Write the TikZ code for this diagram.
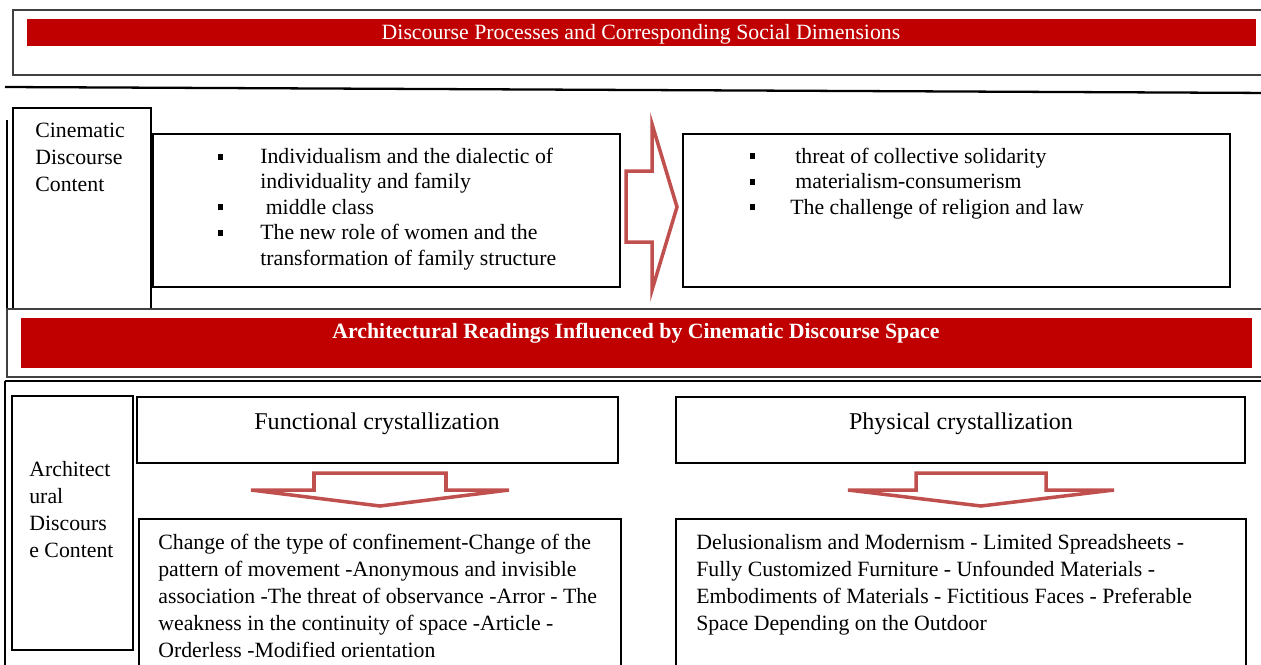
\documentclass[tikz,border=0pt]{standalone}
\usepackage{fontspec}
\setmainfont{Liberation Serif}
\usetikzlibrary{positioning,fit}
\definecolor{barred}{RGB}{192,0,0}
\definecolor{arrowred}{RGB}{192,80,77}
\newcommand{\sqb}{\rule[2.2pt]{2.8pt}{3.4pt}}
\newcommand{\bitem}[1]{\makebox[#1][l]{\sqb}}

\begin{document}
\begin{tikzpicture}[x=0.02cm, y=-0.02cm, font=\fontsize{12.4}{15.3}\selectfont]
	\tikzstyle{box}=[draw=black, line width=0.6pt, inner sep=0pt]
	\tikzstyle{frame}=[draw=black!75, line width=1pt]
	\tikzstyle{bar}=[fill=barred, inner sep=0pt]
	\tikzstyle{txt}=[inner sep=0pt, align=left, anchor=base west]
	\tikzstyle{blockarrow}=[draw=arrowred, line width=2pt, line join=miter]

	\useasboundingbox (0,0) rectangle (1261,664);
	\clip (0,0) rectangle (1261,664);

	% title band
	\draw[frame] (13,10) rectangle (1275,75);
	\node[bar, fit={(27,19) (1256,46)}] (titlebar) {};
	\node[anchor=base, inner sep=0pt, text=white] (title) at (641,39)
	{Discourse Processes and Corresponding Social Dimensions};
	\draw[line width=1.3pt] (5,87) -- (1275,93);

	% cinematic discourse (multi-line nodes sit on their last baseline)
	\draw[line width=0.8pt] (7,120) -- (7,310);
	\node[box, fit={(13,108) (151,309)}] (cinebox) {};
	\node[txt] (cinelabel) at (35,191) {Cinematic\\Discourse\\Content};

	\node[box, fit={(153,134) (620,287)}] (content1) {};
	\node[txt, font=\fontsize{12.4}{14.46}\selectfont] (items1) at (218,265)
	{\bitem{0.84cm}Individualism and the dialectic of\\
	\hspace*{0.84cm}individuality and family\\
	\bitem{0.84cm}\ middle class\\
	\bitem{0.84cm}The new role of women and the\\
	\hspace*{0.84cm}transformation of family structure};

	\draw[blockarrow] (626,171) -- (652,171) -- (652,124) -- (677,207)
		-- (652,290) -- (652,242) -- (626,242) -- cycle;

	\node[box, fit={(683,134) (1230,287)}] (content2) {};
	\node[txt, font=\fontsize{12.4}{14.46}\selectfont] (items2) at (750,214)
	{\bitem{0.9cm}threat of collective solidarity\\
	\bitem{0.9cm}materialism-consumerism\\
	\bitem{0.8cm}The challenge of religion and law};

	% architectural readings band
	\draw[frame] (7,309) rectangle (1275,377);
	\node[bar, fit={(21,318) (1252,368)}] (readbar) {};
	\node[anchor=base, inner sep=0pt, text=white, font=\fontsize{12.4}{15.3}\selectfont\bfseries] (readtitle) at (636,338)
	{Architectural Readings Influenced by Cinematic Discourse Space};

	% architectural discourse
	\draw[line width=1.5pt] (5,381) -- (1275,381);
	\draw[line width=0.8pt] (5,381) -- (5,670);
	\node[box, fit={(12,396) (133,650)}] (archbox) {};
	\node[txt] (archlabel) at (29,557) {Architect\\ural\\Discours\\e Content};

	\node[box, fit={(137,397) (618,463)}] (funcbox) {};
	\node[anchor=base, inner sep=0pt, font=\fontsize{13.7}{16}\selectfont] (funclabel) at (377,429) {Functional crystallization};
	\node[box, fit={(676,397) (1245,463)}] (physbox) {};
	\node[anchor=base, inner sep=0pt, font=\fontsize{13.7}{16}\selectfont] (physlabel) at (961,429) {Physical crystallization};

	\foreach \cx/\hw/\sw in {380/129/66, 981/133/65}
		\draw[blockarrow] (\cx-\sw,473) -- (\cx+\sw,473) -- (\cx+\sw,490) -- (\cx+\hw,490)
			-- (\cx,506) -- (\cx-\hw,490) -- (\cx-\sw,490) -- cycle;

	\node[box, fit={(139,519) (621,680)}] (funcitems) {};
	\node[txt] (functext) at (158,657)
	{Change of the type of confinement-Change of the\\
	pattern of movement -Anonymous and invisible\\
	association -The threat of observance -Arror - The\\
	weakness in the continuity of space -Article -\\
	Orderless -Modified orientation};

	\node[box, fit={(676,519) (1246,680)}] (physitems) {};
	\node[txt] (phystext) at (696,630)
	{Delusionalism and Modernism - Limited Spreadsheets -\\
	Fully Customized Furniture - Unfounded Materials -\\
	Embodiments of Materials - Fictitious Faces - Preferable\\
	Space Depending on the Outdoor};
\end{tikzpicture}
\end{document}
